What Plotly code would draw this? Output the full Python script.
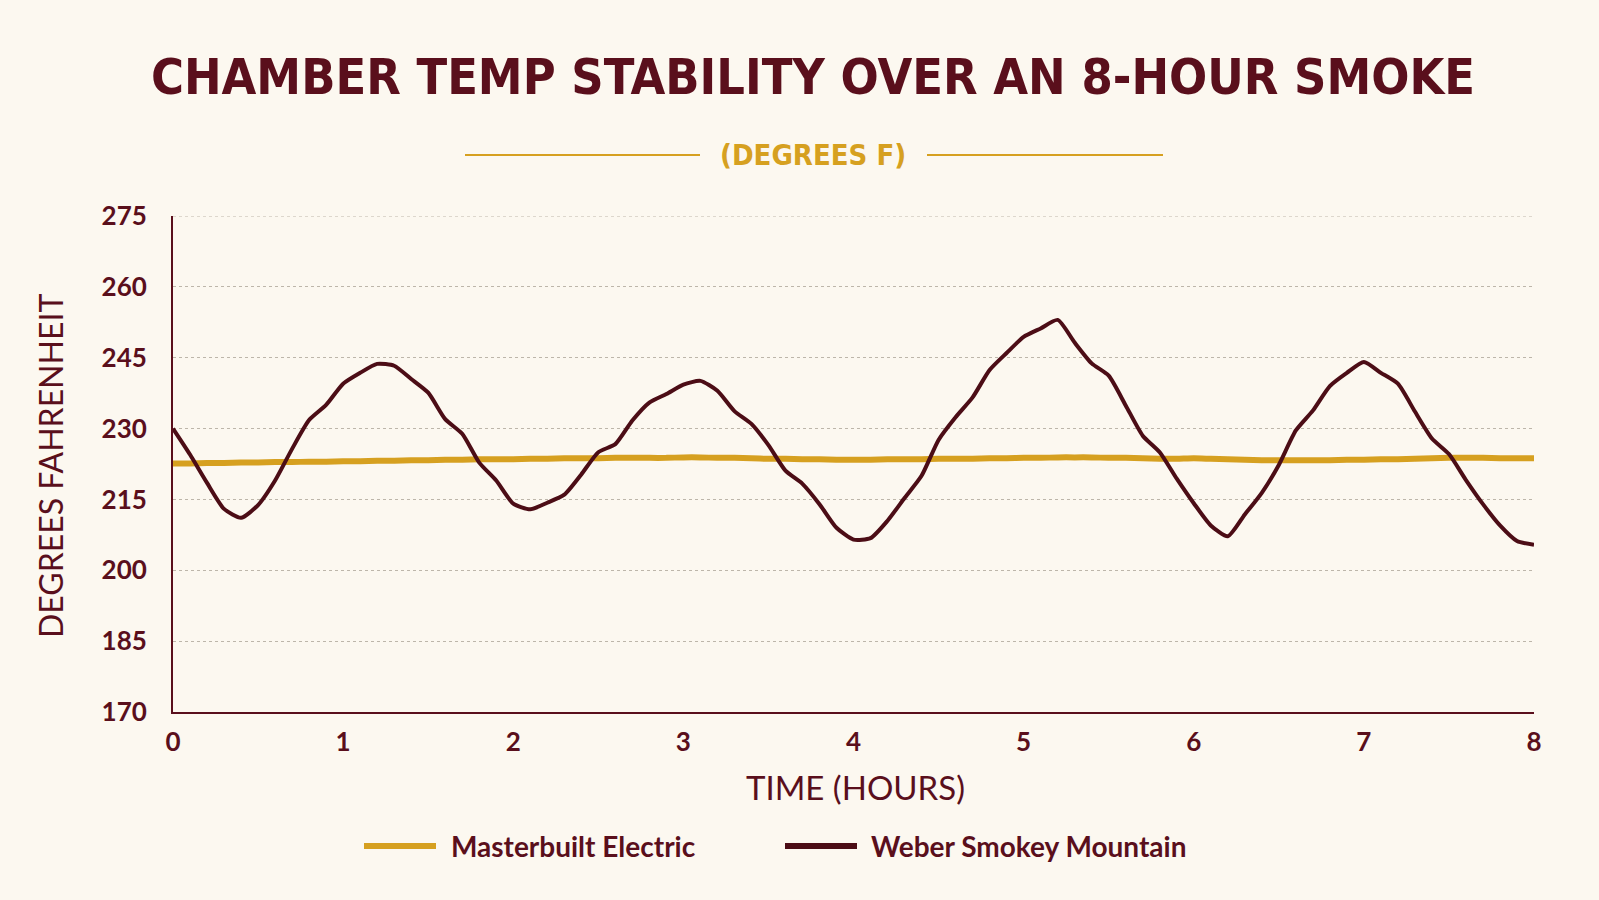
import plotly.graph_objects as go

# ---- data ----
hours = [round(i * 0.1, 1) for i in range(81)]

weber_smokey_mountain = [
    230.0, 224.5, 218.5, 213.0, 211.1, 213.8, 219.0, 225.7, 231.8, 235.0,
    239.5, 241.8, 243.7, 243.3, 240.5, 237.6, 232.0, 228.9, 222.8, 219.0,
    214.1, 212.9, 214.3, 216.0, 220.3, 225.0, 226.7, 231.7, 235.5, 237.3,
    239.3, 240.1, 238.0, 233.7, 231.0, 226.5, 221.1, 218.3, 214.0, 209.0,
    206.5, 206.8, 210.5, 215.3, 220.0, 227.6, 232.4, 236.6, 242.4, 246.0,
    249.4, 251.2, 253.0, 248.2, 243.8, 241.2, 234.9, 228.5, 225.0, 219.4,
    214.2, 209.5, 207.2, 211.8, 216.4, 222.3, 229.6, 233.8, 239.0, 241.8,
    244.1, 241.8, 239.5, 233.6, 227.9, 224.6, 219.1, 214.0, 209.5, 206.2,
    205.4,
]

masterbuilt_electric = [
    222.6, 222.6, 222.7, 222.7, 222.8, 222.8, 222.9, 222.9, 223.0, 223.0,
    223.1, 223.1, 223.2, 223.2, 223.3, 223.3, 223.4, 223.4, 223.5, 223.5,
    223.5, 223.6, 223.6, 223.7, 223.7, 223.7, 223.8, 223.8, 223.8, 223.8,
    223.9, 223.9, 223.8, 223.8, 223.7, 223.6, 223.6, 223.5, 223.5, 223.4,
    223.4, 223.4, 223.5, 223.5, 223.5, 223.6, 223.6, 223.6, 223.7, 223.7,
    223.8, 223.8, 223.9, 223.9, 223.9, 223.8, 223.8, 223.7, 223.6, 223.6,
    223.7, 223.6, 223.5, 223.4, 223.3, 223.3, 223.3, 223.3, 223.3, 223.4,
    223.4, 223.5, 223.5, 223.6, 223.7, 223.8, 223.8, 223.8, 223.7, 223.7,
    223.7,
]

series_names = ["Masterbuilt Electric", "Weber Smokey Mountain"]
x_ticks = [0, 1, 2, 3, 4, 5, 6, 7, 8]
y_ticks = [170, 185, 200, 215, 230, 245, 260, 275]

# ---- style ----
BG = "#FCF8F0"
MAROON = "#5A0F1C"
WEBER = "#4C0D16"
GOLD = "#D6A020"
GRID = "#BDB6AA"
TITLE_FONT = "DejaVu Sans Condensed, DejaVu Sans, sans-serif"
BODY_FONT = "Lato, Open Sans, sans-serif"

fig = go.Figure()
fig.add_trace(go.Scatter(x=hours, y=masterbuilt_electric, mode="lines",
                         name=series_names[0],
                         line=dict(color=GOLD, width=6, shape="spline", smoothing=0.6)))
fig.add_trace(go.Scatter(x=hours, y=weber_smokey_mountain, mode="lines",
                         name=series_names[1],
                         line=dict(color=WEBER, width=4, shape="spline", smoothing=0.6)))

L, R, T, B = 173, 1534, 216, 712
W, H = R - L, B - T


def px(x):
    return (x - L) / W


def py(y):
    return (B - y) / H


fig.update_layout(
    width=1599, height=900,
    paper_bgcolor=BG, plot_bgcolor=BG,
    margin=dict(l=L, r=1599 - R, t=T, b=900 - B),
    showlegend=False,
    title=dict(text="CHAMBER TEMP STABILITY OVER AN 8-HOUR SMOKE",
               x=813 / 1599, xanchor="center", xref="container",
               y=1 - 76 / 900, yanchor="middle", yref="container",
               font=dict(family=TITLE_FONT, size=50, color=MAROON, weight="bold")),
)

fig.update_xaxes(range=[0, 8], tickvals=x_ticks, ticktext=[str(v) for v in x_ticks],
                 showgrid=False, zeroline=False, showline=True, linecolor=MAROON,
                 linewidth=2, ticks="", ticklabelstandoff=6,
                 tickfont=dict(family=BODY_FONT, size=26, color=MAROON, weight="bold"))
fig.update_yaxes(range=[170, 275], tickvals=y_ticks, ticktext=[str(v) for v in y_ticks],
                 showgrid=True, gridcolor=GRID, griddash="dot", gridwidth=1,
                 zeroline=False, showline=True, linecolor=MAROON, linewidth=2,
                 ticks="", ticklabelstandoff=19,
                 tickfont=dict(family=BODY_FONT, size=26, color=MAROON, weight="bold"))

# top gridline (Plotly drops the one at the range edge)
fig.add_shape(type="line", xref="paper", yref="y", x0=0, x1=1,
              y0=y_ticks[-1], y1=y_ticks[-1], layer="below",
              line=dict(color=GRID, width=1, dash="dot"))

# subtitle with flanking rules
fig.add_annotation(text="(DEGREES F)", xref="paper", yref="paper",
                   x=px(813), y=py(155), showarrow=False,
                   xanchor="center", yanchor="middle",
                   font=dict(family=TITLE_FONT, size=29, color=GOLD, weight="bold"))
for x0, x1 in [(465, 700), (927, 1163)]:
    fig.add_shape(type="line", xref="paper", yref="paper",
                  x0=px(x0), x1=px(x1), y0=py(155), y1=py(155),
                  line=dict(color=GOLD, width=2))

# axis titles
fig.add_annotation(text="TIME (HOURS)", xref="paper", yref="paper",
                   x=px(855), y=py(787), showarrow=False,
                   xanchor="center", yanchor="middle",
                   font=dict(family=BODY_FONT, size=33, color=MAROON))
fig.add_annotation(text="DEGREES FAHRENHEIT", xref="paper", yref="paper",
                   x=px(50), y=py(466), showarrow=False, textangle=-90,
                   xanchor="center", yanchor="middle",
                   font=dict(family=BODY_FONT, size=32, color=MAROON))

# custom legend
legend_items = [(series_names[0], GOLD, 364, 436, 449),
                (series_names[1], WEBER, 785, 857, 869)]
for name, color, x0, x1, xt in legend_items:
    fig.add_shape(type="line", xref="paper", yref="paper",
                  x0=px(x0), x1=px(x1), y0=py(846), y1=py(846),
                  line=dict(color=color, width=6))
    fig.add_annotation(text=name, xref="paper", yref="paper",
                       x=px(xt), y=py(846), showarrow=False,
                       xanchor="left", yanchor="middle",
                       font=dict(family=BODY_FONT, size=28, color=MAROON, weight="bold"))

fig.write_html("out.html")
